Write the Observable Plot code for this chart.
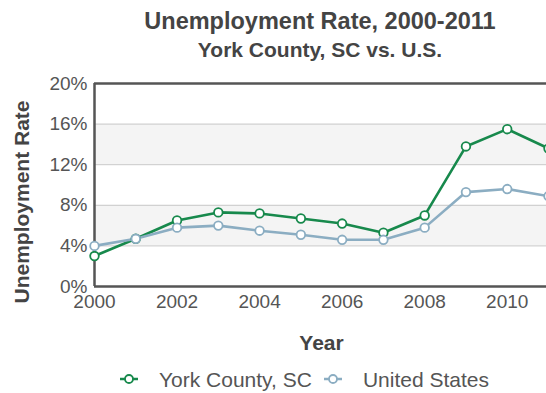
<!DOCTYPE html>
<html>
<head>
<meta charset="utf-8">
<script src="https://cdn.jsdelivr.net/npm/d3@7"></script>
<script src="https://cdn.jsdelivr.net/npm/@observablehq/plot@0.6"></script>
<style>
  html, body { margin: 0; padding: 0; background: #fff; overflow: hidden; width: 546px; height: 393px; }
  #wrap { position: relative; width: 640px; font-family: "Liberation Sans", Arial, sans-serif; color: #444; }
  .title { position: absolute; left: 0; width: 640px; text-align: center; font-weight: bold; }
  #t1 { top: 6px; font-size: 23.5px; line-height: 30px; }
  #t2 { top: 37px; font-size: 21px; line-height: 26px; }
  #chart { position: absolute; left: 0; top: 62px; }
  #legend { position: absolute; left: 120px; top: 367px; white-space: nowrap; font-size: 21px; line-height: 26px; color: #555; }
  #legend span.item { display: inline-block; margin-right: 12px; }
  #legend svg { vertical-align: middle; margin-right: 21px; position: relative; top: -2px; }
</style>
</head>
<body>
<div id="wrap">
  <div class="title" id="t1"></div>
  <div class="title" id="t2"></div>
  <div id="chart"></div>
  <div id="legend"></div>
</div>
<script>
const titleText = "Unemployment Rate, 2000-2011";
const subtitleText = "York County, SC vs. U.S.";
const years = [2000, 2001, 2002, 2003, 2004, 2005, 2006, 2007, 2008, 2009, 2010, 2011];
const york = [3.0, 4.7, 6.5, 7.3, 7.2, 6.7, 6.2, 5.3, 7.0, 13.8, 15.5, 13.6];
const us = [4.0, 4.7, 5.8, 6.0, 5.5, 5.1, 4.6, 4.6, 5.8, 9.3, 9.6, 8.9];
const seriesNames = ["York County, SC", "United States"];
const seriesColors = ["#17894c", "#8badc2"];
const yTicks = [0, 4, 8, 12, 16, 20];
const xTicks = [2000, 2002, 2004, 2006, 2008, 2010];
const bands = [{lo: 4, hi: 8}, {lo: 12, hi: 16}];
const xLabel = "Year";
const yLabel = "Unemployment Rate";

document.getElementById("t1").textContent = titleText;
document.getElementById("t2").textContent = subtitleText;

const data = [
  ...years.map((y, i) => ({year: y, value: york[i], series: seriesNames[0]})),
  ...years.map((y, i) => ({year: y, value: us[i], series: seriesNames[1]}))
];

const chart = Plot.plot({
  width: 640,
  height: 295,
  marginLeft: 94,
  marginRight: 92,
  marginTop: 21,
  marginBottom: 71,
  style: {fontFamily: "Liberation Sans, Arial, sans-serif", fontSize: "19px", color: "#555", background: "#fff"},
  x: {domain: [2000, 2011], label: null},
  y: {domain: [0, 20], label: null},
  color: {domain: seriesNames, range: seriesColors},
  marks: [
    Plot.rectY(bands, {x1: 2000, x2: 2011, y1: "lo", y2: "hi", fill: "#f4f4f4"}),
    Plot.gridY(yTicks.filter(t => t > 0 && t < 20), {stroke: "#c8c8c8", strokeOpacity: 1, strokeWidth: 1}),
    Plot.ruleY([20], {stroke: "#555", strokeWidth: 2.5}),
    Plot.ruleY([0], {stroke: "#555", strokeWidth: 2.5}),
    Plot.ruleX([2000], {stroke: "#555", strokeWidth: 2.5}),
    Plot.axisX({ticks: xTicks, tickFormat: d => String(d), tickSize: 0, tickPadding: 8, fill: "#555", fontSize: 19, label: null}),
    Plot.axisY({ticks: yTicks, tickFormat: d => d + "%", tickSize: 0, tickPadding: 7, fill: "#555", fontSize: 19, label: null}),
    Plot.line(data, {x: "year", y: "value", z: "series", stroke: "series", strokeWidth: 2.6, curve: "linear"}),
    Plot.dot(data, {x: "year", y: "value", stroke: "series", fill: "#fff", r: 4.3, strokeWidth: 1.8}),
    Plot.text([xLabel], {frameAnchor: "bottom", dy: 63, fontWeight: "bold", fontSize: 21, fill: "#444"}),
    Plot.text([yLabel], {frameAnchor: "left", textAnchor: "middle", dx: -72, dy: 17, rotate: -90, fontWeight: "bold", fontSize: 21, fill: "#444"})
  ]
});
document.getElementById("chart").appendChild(chart);

const legend = document.getElementById("legend");
seriesNames.forEach((name, i) => {
  const item = document.createElement("span");
  item.className = "item";
  item.innerHTML = `<svg width="18" height="12"><line x1="0" y1="6" x2="18" y2="6" stroke="${seriesColors[i]}" stroke-width="2.5"/><circle cx="9" cy="6" r="4" fill="#fff" stroke="${seriesColors[i]}" stroke-width="1.8"/></svg>`;
  item.appendChild(document.createTextNode(name));
  legend.appendChild(item);
});
</script>
</body>
</html>
